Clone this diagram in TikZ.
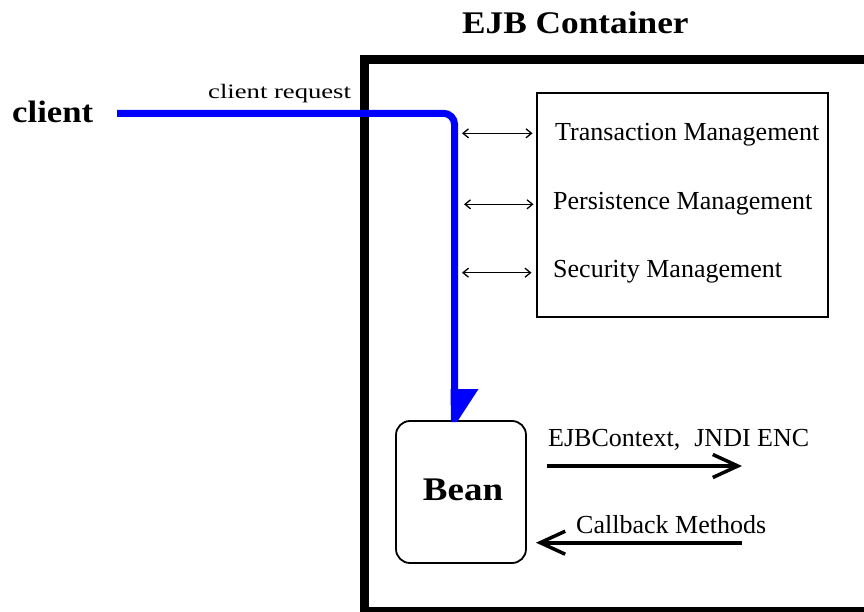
\documentclass[tikz,border=0pt]{standalone}
\usepackage{fontspec}
\setmainfont{Liberation Serif}
\newfontfamily\wideserif[FakeStretch=1.12]{Liberation Serif}
\newfontfamily\widerserif[FakeStretch=1.3]{Liberation Serif}
\usetikzlibrary{arrows.meta}
\begin{document}
\begin{tikzpicture}[x=1pt,y=-1pt,
  lbl/.style={anchor=base west, inner sep=0pt, font=\fontsize{26}{30}\selectfont},
  box/.style={draw, anchor=north west, inner sep=0pt, outer sep=0pt},
  reqline/.style={draw=blue, line width=7pt, rounded corners=11pt},
  dbl/.style={line width=1.3pt, {Straight Barb[length=5.5pt,width=9pt]}-{Straight Barb[length=5.5pt,width=9pt]}},
  bigarrow/.style={line width=4pt, -{Straight Barb[length=25pt,width=23pt,line width=3.5pt]}},
  ]
\useasboundingbox (0,0) rectangle (864,612);
\fill[white] (0,0) rectangle (864,612);
\begin{scope}
  \clip (0,0) rectangle (864,612);
  \node[box, line width=9.5pt, minimum width=540pt, minimum height=552pt] (container) at (364.5,59.5) {};
\end{scope}
\node[anchor=base west, inner sep=0pt, font=\wideserif\bfseries\fontsize{31.5}{36}\selectfont] (title) at (462,33.3) {EJB Container};

% management box
\node[box, line width=2pt, minimum width=291pt, minimum height=223pt] (mgmt) at (536.5,93.5) {};
\node[lbl] (tm) at (555,141) {Transaction Management};
\node[lbl] (pm) at (553,210) {Persistence Management};
\node[lbl] (sm) at (553,277) {Security Management};

% bean
\node[box, rounded corners=14pt, line width=1.8pt, minimum width=130pt, minimum height=142pt] (bean) at (396,421) {};
\node[anchor=base, inner sep=0pt, font=\wideserif\bfseries\fontsize{33}{38}\selectfont] (beanlbl) at (463,500) {Bean};

% client
\node[anchor=base west, inner sep=0pt, font=\wideserif\bfseries\fontsize{31}{36}\selectfont] (client) at (12,123) {client};
\node[anchor=base west, inner sep=0pt, font=\widerserif\fontsize{20.5}{24}\selectfont] (reqlbl) at (208,99) {client request};

% request path
\coordinate (reqstart) at (117,113.3);
\coordinate (turn) at (454.5,113.3);
\coordinate (tip) at (bean.north -| turn);
\draw[reqline] (reqstart) -- (turn) -- ([yshift=30pt]tip);
\fill[blue] ([xshift=-4pt,yshift=32pt]tip) -- ([xshift=24pt,yshift=32pt]tip)
   -- ([xshift=2.5pt,yshift=-1pt]tip) -- ([xshift=-3.5pt,yshift=-1pt]tip) -- cycle;

% management arrows
\coordinate (m1) at (462,133.3);
\coordinate (m2) at (464,204.3);
\coordinate (m3) at (462,272.7);
\draw[dbl, shorten >=4pt] (m1) -- (m1 -| mgmt.west);
\draw[dbl, shorten >=3pt] (m2) -- (m2 -| mgmt.west);
\draw[dbl, shorten >=5pt] (m3) -- (m3 -| mgmt.west);

% bean arrows
\node[lbl] (ctxlbl) at (548,446.7) {EJBContext,\hspace{14pt}JNDI ENC};
\coordinate (ctxend) at (742,466);
\draw[bigarrow, shorten <=20.7pt] (bean.east |- ctxend) -- (ctxend);
\node[lbl] (cblbl) at (576,533) {Callback Methods};
\coordinate (cbstart) at (742,542.7);
\draw[bigarrow, shorten >=10pt] (cbstart) -- (bean.east |- cbstart);
\end{tikzpicture}
\end{document}
